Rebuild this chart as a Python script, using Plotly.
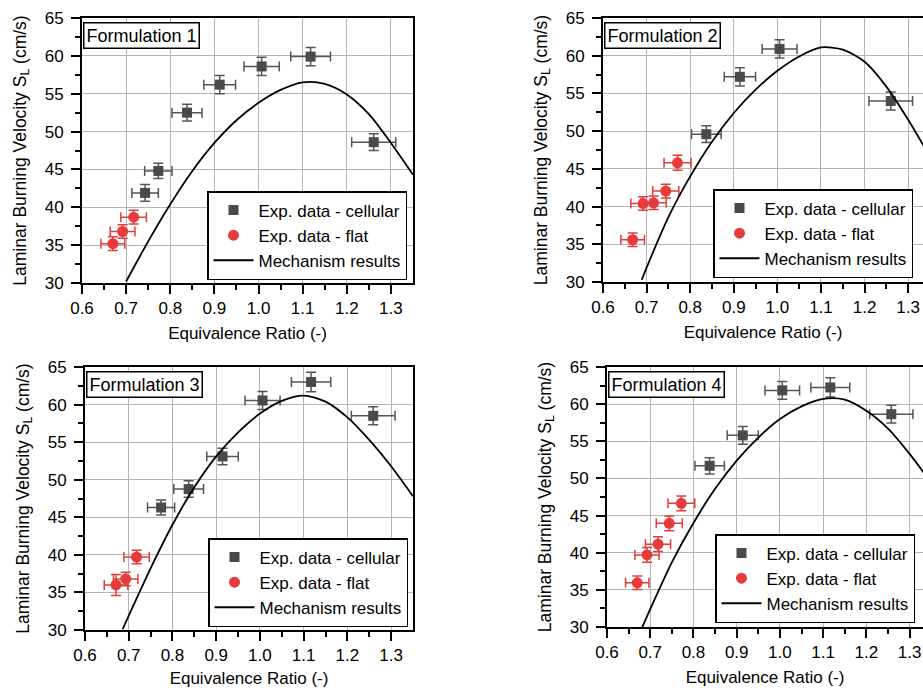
import plotly.graph_objects as go

# ---------------- data ----------------
# Formulation 1
f1_cell_phi = [0.743, 0.773, 0.838, 0.912, 1.007, 1.118, 1.261]
f1_cell_sl = [41.9, 44.8, 52.5, 56.2, 58.6, 59.9, 48.6]
f1_cell_xerr = [0.030, 0.031, 0.034, 0.036, 0.040, 0.045, 0.050]
f1_cell_yerr = [1.1, 1.0, 1.1, 1.2, 1.2, 1.2, 1.1]
f1_flat_phi = [0.670, 0.692, 0.717]
f1_flat_sl = [35.2, 36.8, 38.7]
f1_flat_xerr = [0.027, 0.028, 0.029]
f1_flat_yerr = [0.9, 0.9, 0.9]
f1_mech_phi = [0.70, 0.75, 0.80, 0.85, 0.90, 0.95, 1.00, 1.05, 1.10, 1.15, 1.20, 1.25, 1.30, 1.35]
f1_mech_sl = [30.2, 35.5, 40.4, 44.8, 48.5, 51.5, 53.8, 55.5, 56.5, 56.3, 54.9, 52.3, 48.5, 44.3]

# Formulation 2
f2_cell_phi = [0.837, 0.914, 1.005, 1.260]
f2_cell_sl = [49.6, 57.2, 60.9, 54.0]
f2_cell_xerr = [0.034, 0.036, 0.040, 0.050]
f2_cell_yerr = [1.1, 1.2, 1.2, 1.2]
f2_flat_phi = [0.668, 0.692, 0.716, 0.744, 0.771]
f2_flat_sl = [35.6, 40.4, 40.5, 42.05, 45.8]
f2_flat_xerr = [0.027, 0.028, 0.029, 0.030, 0.031]
f2_flat_yerr = [0.9, 0.9, 0.9, 0.9, 1.0]
f2_mech_phi = [0.689, 0.70, 0.75, 0.80, 0.85, 0.90, 0.95, 1.00, 1.05, 1.10, 1.15, 1.20, 1.25, 1.30, 1.35]
f2_mech_sl = [30.3, 31.9, 38.6, 44.0, 48.6, 52.4, 55.5, 58.0, 59.9, 61.1, 60.8, 59.2, 55.9, 51.5, 46.6]

# Formulation 3
f3_cell_phi = [0.774, 0.837, 0.9145, 1.006, 1.117, 1.259]
f3_cell_sl = [46.3, 48.75, 53.1, 60.55, 63.0, 58.5]
f3_cell_xerr = [0.031, 0.034, 0.036, 0.040, 0.045, 0.050]
f3_cell_yerr = [1.0, 1.1, 1.1, 1.2, 1.3, 1.2]
f3_flat_phi = [0.671, 0.693, 0.718]
f3_flat_sl = [36.0, 36.8, 39.7]
f3_flat_xerr = [0.027, 0.028, 0.029]
f3_flat_yerr = [1.4, 0.9, 0.9]
f3_mech_phi = [0.686, 0.70, 0.75, 0.80, 0.85, 0.90, 0.95, 1.00, 1.05, 1.10, 1.15, 1.20, 1.25, 1.30, 1.35]
f3_mech_sl = [30.1, 31.9, 38.2, 44.0, 49.0, 53.1, 56.3, 58.8, 60.5, 61.2, 60.4, 58.3, 55.3, 51.8, 47.8]

# Formulation 4
f4_cell_phi = [0.8375, 0.914, 1.0055, 1.1166, 1.2577]
f4_cell_sl = [51.7, 55.8, 61.85, 62.25, 58.65]
f4_cell_xerr = [0.034, 0.036, 0.040, 0.045, 0.050]
f4_cell_yerr = [1.1, 1.2, 1.2, 1.3, 1.2]
f4_flat_phi = [0.670, 0.6925, 0.718, 0.744, 0.772]
f4_flat_sl = [35.95, 39.7, 41.15, 43.95, 46.65]
f4_flat_xerr = [0.027, 0.028, 0.029, 0.030, 0.031]
f4_flat_yerr = [0.9, 1.0, 1.0, 1.0, 1.0]
f4_mech_phi = [0.681, 0.70, 0.75, 0.80, 0.85, 0.90, 0.95, 1.00, 1.05, 1.10, 1.15, 1.20, 1.25, 1.30, 1.35]
f4_mech_sl = [29.9, 32.4, 38.7, 44.0, 48.6, 52.4, 55.5, 58.0, 59.7, 60.7, 60.6, 59.1, 56.7, 53.3, 49.4]

panel_titles = ["Formulation 1", "Formulation 2", "Formulation 3", "Formulation 4"]
legend_names = ["Exp. data - cellular", "Exp. data - flat", "Mechanism results"]
x_title = "Equivalence Ratio (-)"
y_title = "Laminar Burning Velocity S<sub>L</sub> (cm/s)"
x_ticks = [0.6, 0.7, 0.8, 0.9, 1.0, 1.1, 1.2, 1.3]
x_ticklabels = ["0.6", "0.7", "0.8", "0.9", "1.0", "1.1", "1.2", "1.3"]
x_minor = [0.65, 0.75, 0.85, 0.95, 1.05, 1.15, 1.25]
y_ticks = [30, 35, 40, 45, 50, 55, 60, 65]
y_minor = [32.5, 37.5, 42.5, 47.5, 52.5, 57.5, 62.5]

panels = [
    (f1_cell_phi, f1_cell_sl, f1_cell_xerr, f1_cell_yerr, f1_flat_phi, f1_flat_sl, f1_flat_xerr, f1_flat_yerr, f1_mech_phi, f1_mech_sl),
    (f2_cell_phi, f2_cell_sl, f2_cell_xerr, f2_cell_yerr, f2_flat_phi, f2_flat_sl, f2_flat_xerr, f2_flat_yerr, f2_mech_phi, f2_mech_sl),
    (f3_cell_phi, f3_cell_sl, f3_cell_xerr, f3_cell_yerr, f3_flat_phi, f3_flat_sl, f3_flat_xerr, f3_flat_yerr, f3_mech_phi, f3_mech_sl),
    (f4_cell_phi, f4_cell_sl, f4_cell_xerr, f4_cell_yerr, f4_flat_phi, f4_flat_sl, f4_flat_xerr, f4_flat_yerr, f4_mech_phi, f4_mech_sl),
]

# ---------------- styling / layout ----------------
W, H = 923, 688
FONT = "Liberation Sans, Arial, Helvetica, sans-serif"
FS = 17
CELL_COLOR = "#4a4a4a"
CELL_ERR = "#555555"
FLAT_COLOR = "#e63b3b"
GRID = "#b4b4b4"

# plot areas in pixels: (x0, x1, ytop, ybottom, xmax_of_range)
areas = [
    (82, 413, 18, 283, 1.35),
    (603, 923, 18, 282, 1.334),
    (85, 413, 367, 630, 1.35),
    (607, 923, 367, 627, 1.331),
]
# legend anchors (pixels): (x, y_bottom, xanchor)
legend_pos = [
    (407, 280, "right"),
    (713, 278, "left"),
    (408, 627, "right"),
    (715, 623, "left"),
]

fig = go.Figure()
layout = dict(
    width=W, height=H,
    margin=dict(l=0, r=0, t=0, b=0, autoexpand=False),
    paper_bgcolor="white", plot_bgcolor="white",
    font=dict(family=FONT, size=FS, color="black"),
    showlegend=True,
    annotations=[],
)

for i, (cphi, csl, cxe, cye, fphi, fsl, fxe, fye, mphi, msl) in enumerate(panels):
    n = "" if i == 0 else str(i + 1)
    xa, ya = "x" + n, "y" + n
    leg = "legend" + n
    fig.add_trace(go.Scatter(
        x=cphi, y=csl, mode="markers", name=legend_names[0],
        xaxis=xa, yaxis=ya, legend=leg,
        marker=dict(symbol="square", size=10, color=CELL_COLOR),
        error_x=dict(type="data", array=cxe, color=CELL_ERR, thickness=1.5, width=5),
        error_y=dict(type="data", array=cye, color=CELL_ERR, thickness=1.5, width=5),
    ))
    fig.add_trace(go.Scatter(
        x=fphi, y=fsl, mode="markers", name=legend_names[1],
        xaxis=xa, yaxis=ya, legend=leg,
        marker=dict(symbol="circle", size=11, color=FLAT_COLOR),
        error_x=dict(type="data", array=fxe, color=FLAT_COLOR, thickness=1.5, width=5),
        error_y=dict(type="data", array=fye, color=FLAT_COLOR, thickness=1.5, width=5),
    ))
    fig.add_trace(go.Scatter(
        x=mphi, y=msl, mode="lines", name=legend_names[2],
        xaxis=xa, yaxis=ya, legend=leg,
        line=dict(color="black", width=1.8, shape="spline", smoothing=0.8),
    ))

    x0, x1, yt, yb, xmax = areas[i]
    right_col = i in (1, 3)
    layout["xaxis" + n] = dict(
        domain=[x0 / W, x1 / W], anchor=ya, range=[0.6, xmax],
        tickmode="array", tickvals=x_ticks, ticktext=x_ticklabels,
        showgrid=True, gridcolor=GRID, gridwidth=1,
        showline=True, linecolor="black", linewidth=2, mirror=True,
        ticks="outside", ticklen=9, tickwidth=2, tickcolor="black",
        ticklabelstandoff=0,
        minor=dict(tickvals=x_minor, ticks="outside", ticklen=5, tickwidth=2,
                   tickcolor="black", showgrid=False),
        tickfont=dict(size=FS),
        title=dict(text=x_title, font=dict(size=FS), standoff=10),
        zeroline=False, automargin=False,
    )
    layout["yaxis" + n] = dict(
        domain=[1 - yb / H, 1 - yt / H], anchor=xa, range=[30, 65],
        tickmode="array", tickvals=y_ticks,
        showgrid=True, gridcolor=GRID, gridwidth=1,
        showline=True, linecolor="black", linewidth=2, mirror=(not right_col),
        ticks="outside", ticklen=9, tickwidth=2, tickcolor="black",
        ticklabelstandoff=4,
        minor=dict(tickvals=y_minor, ticks="outside", ticklen=5, tickwidth=2,
                   tickcolor="black", showgrid=False),
        tickfont=dict(size=FS),
        title=dict(text=y_title, font=dict(size=17.5), standoff=14),
        zeroline=False, automargin=False,
    )
    lx, lyb, lxa = legend_pos[i]
    layout[leg] = dict(
        x=lx / W, y=1 - lyb / H, xanchor=lxa, yanchor="bottom",
        xref="paper", yref="paper",
        bgcolor="white", bordercolor="black", borderwidth=1.5,
        font=dict(size=17, color="black"), itemwidth=40,
        tracegroupgap=0,
    )
    layout["annotations"].append(dict(
        text=panel_titles[i], xref=xa + " domain", yref=ya + " domain",
        x=0.004, y=0.985, xanchor="left", yanchor="top", showarrow=False,
        font=dict(size=18, color="black"), bgcolor="white",
        bordercolor="black", borderwidth=1.5, borderpad=2,
    ))

fig.update_layout(**layout)
fig.write_html(
    "out.html",
    config={"displayModeBar": False},
    post_script="document.body.style.margin='0px';document.body.style.overflow='hidden';",
)
